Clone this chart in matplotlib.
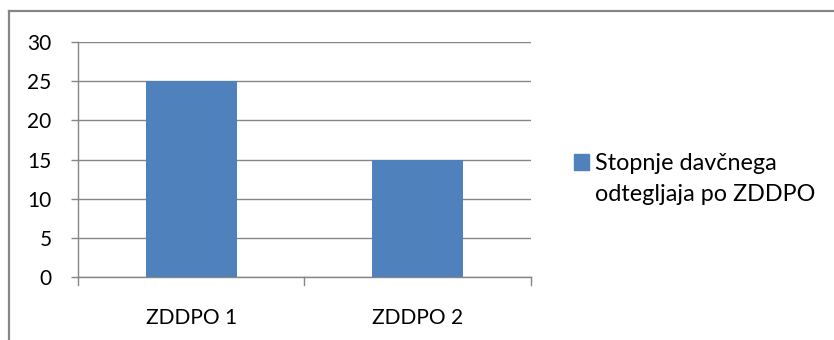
import matplotlib.pyplot as plt
from matplotlib.lines import Line2D
from matplotlib.patches import Rectangle

categories = ["ZDDPO 1", "ZDDPO 2"]
values = [25, 15]
series_name = "Stopnje davčnega\nodtegljaja po ZDDPO"

BAR = "#4f81bd"
GRID = "#868686"
FS = 15

plt.rcParams["font.family"] = ["Lato", "DejaVu Sans"]

fig = plt.figure(figsize=(8.34, 3.40), dpi=100)
ax = fig.add_axes([78 / 834, 63 / 340, 453 / 834, 235 / 340])

ax.bar(range(len(categories)), values, width=0.4, color=BAR, zorder=3)
ax.set_xlim(-0.5, len(categories) - 0.5)
ax.set_ylim(0, 30)
ax.set_yticks(range(0, 31, 5))
ax.set_xticks(range(len(categories)))
ax.set_xticklabels(categories)
ax.grid(axis="y", color=GRID, linewidth=1.0, zorder=0)

for s in ("top", "right"):
    ax.spines[s].set_visible(False)
for s in ("left", "bottom"):
    ax.spines[s].set_color(GRID)
    ax.spines[s].set_linewidth(1.0)

ax.tick_params(axis="y", length=5, width=1.0, color=GRID, pad=14, labelsize=FS)
ax.tick_params(axis="x", length=0, pad=22, labelsize=FS)
# category boundary ticks below the x axis
for xb in [-0.5 + i for i in range(len(categories) + 1)]:
    ax.plot([xb, xb], [0, -0.034], transform=ax.get_xaxis_transform(),
            color=GRID, linewidth=1.0, clip_on=False)

# legend
fig.patches.append(Rectangle((574 / 834, 1 - 170 / 340), 15 / 834, 16 / 340,
                             transform=fig.transFigure, color=BAR))
fig.text(595 / 834, 1 - 179 / 340, series_name, fontsize=16.8,
         va="center", ha="left", linespacing=1.55)

# outer frame (only top and left edges fall inside the image)
fig.add_artist(Line2D([9 / 834, 1], [1 - 11 / 340] * 2, color=GRID, linewidth=1.6))
fig.add_artist(Line2D([9 / 834] * 2, [0, 1 - 11 / 340], color=GRID, linewidth=1.6))

fig.savefig("out.png", dpi=100)
